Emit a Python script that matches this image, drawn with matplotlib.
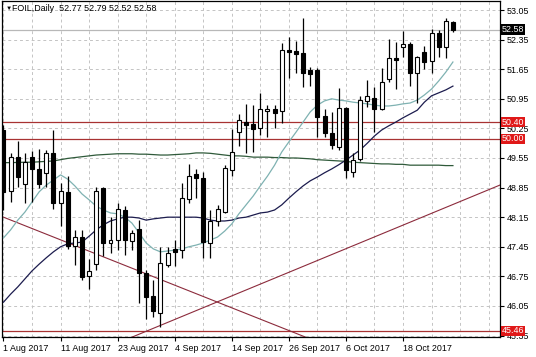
import matplotlib.pyplot as plt
import numpy as np

# daily OHLC, 1 Aug 2017 .. 27 Oct 2017
opens = [50.21, 48.77, 49.57, 48.93, 49.57, 49.28, 49.20, 49.67, 48.48, 48.75,
         47.47, 47.69, 46.76, 47.04, 48.83, 47.55, 47.61, 48.32, 47.59, 47.86,
         46.82, 46.29, 45.89, 47.02, 47.39, 47.37, 48.58, 49.16, 49.07, 47.55,
         48.07, 48.28, 49.26, 50.17, 50.39, 50.35, 50.25, 50.67, 50.71, 50.67,
         52.10, 52.09, 52.03, 51.63, 51.63, 50.54, 50.15, 49.82, 50.73, 49.23,
         49.52, 50.90, 50.98, 50.70, 51.41, 51.91, 52.17, 52.25, 51.55, 52.06,
         51.85, 52.51, 52.17, 52.77]
highs = [50.33, 49.66, 49.94, 49.66, 49.72, 49.76, 49.74, 50.21, 48.95, 49.12,
         47.85, 47.85, 47.15, 48.86, 48.86, 48.16, 48.48, 48.41, 47.85, 48.08,
         46.90, 46.66, 47.45, 47.45, 47.61, 48.95, 49.41, 49.28, 49.22, 48.32,
         48.44, 49.38, 50.23, 50.59, 50.83, 50.80, 51.09, 50.80, 50.80, 52.26,
         52.40, 52.32, 52.85, 51.71, 51.69, 50.70, 50.64, 51.20, 50.76, 49.66,
         51.02, 51.39, 51.22, 51.69, 52.36, 52.30, 52.56, 52.30, 51.97, 52.20,
         52.59, 52.58, 52.85, 52.79]
lows = [48.32, 48.52, 48.87, 48.48, 48.52, 48.83, 48.86, 48.34, 47.94, 47.39,
        47.02, 46.66, 46.44, 46.90, 47.22, 47.30, 47.37, 47.26, 47.37, 46.13,
        45.73, 45.80, 45.56, 46.97, 46.99, 47.18, 48.48, 48.60, 47.18, 47.18,
        47.94, 48.24, 49.12, 49.83, 49.66, 49.70, 50.09, 50.05, 50.25, 50.37,
        51.43, 51.55, 51.22, 51.25, 50.05, 50.05, 49.76, 49.74, 49.07, 49.11,
        49.49, 50.76, 50.17, 50.68, 51.35, 51.17, 51.93, 51.25, 50.86, 51.65,
        51.55, 51.93, 51.91, 52.52]
closes = [48.75, 49.58, 49.11, 49.45, 49.29, 48.93, 49.67, 48.48, 48.78, 47.47,
          47.67, 46.73, 46.88, 48.78, 47.53, 47.61, 48.34, 47.61, 47.77, 46.82,
          46.27, 45.94, 47.07, 47.30, 47.33, 48.60, 49.13, 49.07, 47.57, 48.07,
          48.34, 49.31, 49.70, 50.45, 50.33, 50.24, 50.70, 50.72, 50.62, 52.10,
          52.06, 52.01, 51.57, 51.53, 50.53, 50.15, 49.86, 50.73, 49.26, 49.50,
          50.92, 51.02, 50.70, 51.35, 51.91, 51.87, 52.25, 51.57, 51.95, 51.83,
          52.50, 52.17, 52.80, 52.58]

# moving averages
ma_fast = [47.66, 47.85, 48.08, 48.27, 48.51, 48.75, 48.91, 49.03, 49.15, 49.05,
           48.89, 48.70, 48.56, 48.41, 48.32, 48.25, 48.23, 48.15, 48.01, 47.78,
           47.54, 47.40, 47.33, 47.35, 47.37, 47.40, 47.45, 47.49, 47.54, 47.61,
           47.68, 47.82, 47.99, 48.23, 48.44, 48.65, 48.89, 49.12, 49.38, 49.69,
           49.93, 50.16, 50.40, 50.64, 50.80, 50.90, 50.95, 50.92, 50.90, 50.87,
           50.85, 50.83, 50.80, 50.78, 50.78, 50.80, 50.83, 50.85, 50.92, 51.04,
           51.18, 51.37, 51.58, 51.82]
ma_mid = [46.14, 46.33, 46.50, 46.69, 46.88, 47.04, 47.19, 47.33, 47.45, 47.52,
          47.54, 47.56, 47.70, 47.85, 47.97, 48.06, 48.11, 48.15, 48.15, 48.13,
          48.08, 48.11, 48.13, 48.15, 48.15, 48.15, 48.15, 48.15, 48.13, 48.08,
          48.06, 48.06, 48.08, 48.13, 48.15, 48.20, 48.25, 48.27, 48.32, 48.44,
          48.60, 48.75, 48.89, 49.01, 49.10, 49.20, 49.29, 49.39, 49.50, 49.62,
          49.74, 49.90, 50.07, 50.21, 50.31, 50.40, 50.50, 50.59, 50.68, 50.87,
          51.02, 51.09, 51.16, 51.25]
ma_slow = [49.44, 49.44, 49.445, 49.45, 49.45, 49.46, 49.47, 49.48, 49.51, 49.54,
           49.56, 49.58, 49.60, 49.62, 49.63, 49.64, 49.65, 49.65, 49.65, 49.64,
           49.64, 49.63, 49.62, 49.62, 49.63, 49.64, 49.65, 49.67, 49.67, 49.66,
           49.64, 49.62, 49.60, 49.60, 49.59, 49.57, 49.57, 49.57, 49.56, 49.56,
           49.55, 49.55, 49.54, 49.53, 49.51, 49.50, 49.49, 49.48, 49.47, 49.45,
           49.44, 49.43, 49.42, 49.41, 49.41, 49.40, 49.40, 49.38, 49.38, 49.38,
           49.38, 49.38, 49.37, 49.37]

levels = [50.40, 50.00, 45.46]
bid = 52.58
# trend lines, (bar, price) pairs
trend_down = [(0, 48.15), (40, 45.47)]
trend_up = [(25, 45.80), (63, 48.45)]

date_pos = [0, 8, 16, 24, 32, 40, 48, 56]
date_labels = ["1 Aug 2017", "11 Aug 2017", "23 Aug 2017", "4 Sep 2017",
               "14 Sep 2017", "26 Sep 2017", "6 Oct 2017", "18 Oct 2017"]
price_ticks = [45.35, 46.05, 46.75, 47.45, 48.15, 48.85, 49.55, 50.25,
               50.95, 51.65, 52.35, 53.05]

plt.rcParams['font.family'] = ['Liberation Sans', 'DejaVu Sans']

fig = plt.figure(figsize=(5.36, 3.57), dpi=100)
ax = fig.add_axes([1.5/536, 20/357, 498.5/536, 336/357])

idx = np.arange(len(opens))
o = np.array(opens); c = np.array(closes)

# grid
ax.set_xticks(np.arange(0, 70, 4), minor=True)
ax.set_yticks(price_ticks)
ax.grid(True, which='both', axis='x', color='#c4c4c4', linestyle=(0, (3, 3)), linewidth=0.7)
ax.grid(True, which='major', axis='y', color='#c4c4c4', linestyle=(0, (3, 3)), linewidth=0.7)
ax.set_axisbelow(True)

ax.axhline(bid, color='#b8b8b8', linewidth=0.9, zorder=1)
for lv in levels:
    ax.axhline(lv, color='#a83232', linewidth=0.9, zorder=2)
ax.axline(trend_down[0], trend_down[1], color='#8c2b3c', linewidth=0.8, zorder=2)
ax.axline(trend_up[0], trend_up[1], color='#8c2b3c', linewidth=0.8, zorder=2)

ax.plot(idx, ma_slow, color='#2f5a3a', linewidth=0.9, zorder=3)
ax.plot(idx, ma_mid, color='#1c1c4e', linewidth=0.9, zorder=3)
ax.plot(idx, ma_fast, color='#7fb2b2', linewidth=0.9, zorder=3)

# candles
ax.vlines(idx, lows, highs, color='black', linewidth=0.9, zorder=4)
body_h = np.maximum(np.abs(c - o), 0.02)
cols = np.where(c >= o, 'white', 'black')
ax.bar(idx, body_h, bottom=np.minimum(o, c), width=0.56, color=cols,
       edgecolor='black', linewidth=0.8, zorder=5)

ax.set_xlim(-0.28, 69.6)
ax.set_ylim(45.316, 53.263)

ax.set_xticks(date_pos)
ax.set_xticklabels(date_labels, fontsize=6.4, ha='left')
ax.tick_params(axis='x', which='major', length=3, width=0.8, pad=2)
ax.tick_params(axis='x', which='minor', length=0)
ax.yaxis.tick_right()
ax.set_yticklabels([f"{p:.2f}" for p in price_ticks], fontsize=6.4)
ax.tick_params(axis='y', length=3, width=0.8, pad=2)
for s in ax.spines.values():
    s.set_color('black')
    s.set_linewidth(0.9)

trans = ax.get_yaxis_transform()
for lv in levels:
    ax.text(1.004, lv, f"{lv:.2f}", transform=trans, fontsize=6.4, color='white',
            va='center', ha='left', zorder=10, clip_on=False,
            bbox=dict(boxstyle='square,pad=0.1', fc='#e01818', ec='none'))
ax.text(1.004, bid, f"{bid:.2f}", transform=trans, fontsize=6.4, color='white',
        va='center', ha='left', zorder=10, clip_on=False,
        bbox=dict(boxstyle='square,pad=0.1', fc='black', ec='none'))

ax.text(0.008, 0.985, "\u25BC", transform=ax.transAxes, fontsize=4.5, va='top', ha='left')
ax.text(0.022, 0.99, "FOIL,Daily  52.77 52.79 52.52 52.58", transform=ax.transAxes,
        fontsize=6.4, va='top', ha='left')

fig.savefig("out.png", dpi=100)
